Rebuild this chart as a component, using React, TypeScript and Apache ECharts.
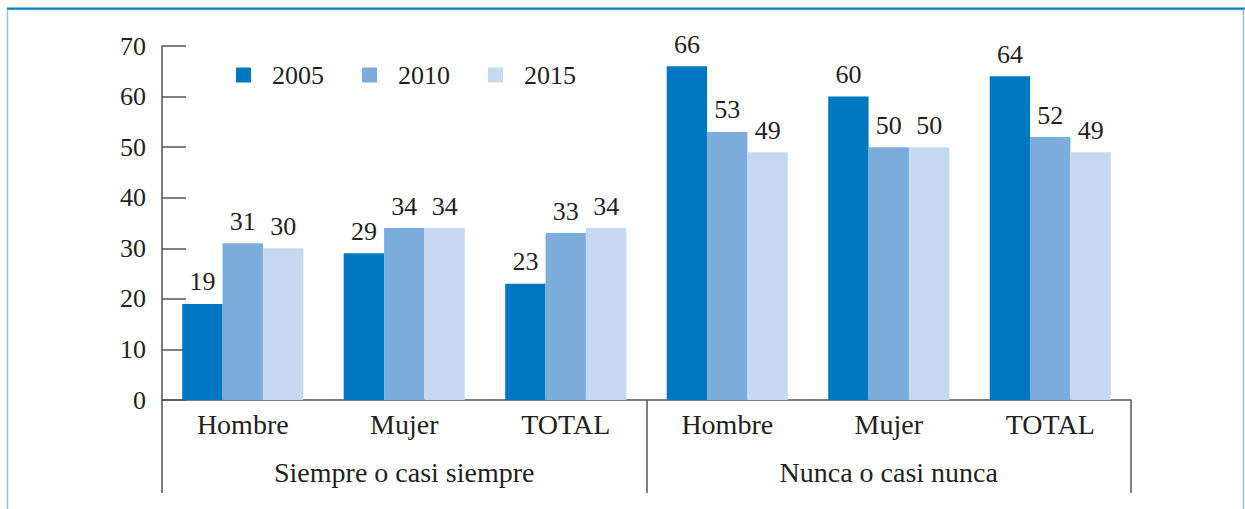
import React, { useEffect, useRef } from "react";
import * as echarts from "echarts";

const categories = ["Hombre", "Mujer", "TOTAL", "Hombre", "Mujer", "TOTAL"];
const groups = ["Siempre o casi siempre", "Nunca o casi nunca"];
const seriesNames = ["2005", "2010", "2015"];
const values2005 = [19, 29, 23, 66, 60, 64];
const values2010 = [31, 34, 33, 53, 50, 52];
const values2015 = [30, 34, 34, 49, 50, 49];
const colors = ["#0077C1", "#7BACDC", "#C6D9F0"];

const FONT = "'Liberation Serif', 'Times New Roman', serif";
const TEXT = "#231F20";
const AXIS = "#555555";

export default function App() {
  const ref = useRef<HTMLDivElement>(null);
  useEffect(() => {
    document.body.style.margin = "0";
    const chart = echarts.init(ref.current!, null, { renderer: "svg" });
    const data = [values2005, values2010, values2015];
    chart.setOption({
      animation: false,
      backgroundColor: "#ffffff",
      textStyle: { fontFamily: FONT, color: TEXT },
      grid: { left: 162, right: 114, top: 46, bottom: 109, containLabel: false },
      legend: {
        left: 236,
        top: 62,
        padding: 0,
        icon: "rect",
        itemWidth: 15,
        itemHeight: 15,
        itemGap: 38,
        data: seriesNames,
        textStyle: { fontFamily: FONT, fontSize: 26, color: TEXT, padding: [0, 0, 0, 16] },
      },
      xAxis: [
        {
          type: "category",
          data: categories,
          position: "bottom",
          axisLine: { show: true, lineStyle: { color: AXIS, width: 1.5 } },
          axisTick: { show: false },
          axisLabel: { margin: 10, fontFamily: FONT, fontSize: 28, color: TEXT },
        },
        {
          type: "category",
          data: groups,
          position: "bottom",
          axisLine: { show: false },
          axisTick: { show: true, length: 93, lineStyle: { color: AXIS, width: 1.5 } },
          axisLabel: { margin: 58, fontFamily: FONT, fontSize: 28, color: TEXT },
        },
      ],
      yAxis: {
        type: "value",
        min: 0,
        max: 70,
        interval: 10,
        axisLine: { show: true, lineStyle: { color: AXIS, width: 1.5 } },
        axisTick: { show: true, inside: true, length: 24, lineStyle: { color: AXIS, width: 1.5 } },
        splitLine: { show: false },
        axisLabel: { margin: 16, fontFamily: FONT, fontSize: 26, color: TEXT },
      },
      series: seriesNames.map((name, i) => ({
        name,
        type: "bar",
        xAxisIndex: 0,
        data: data[i],
        barGap: "0%",
        barCategoryGap: "25%",
        itemStyle: { color: colors[i] },
        label: {
          show: true,
          position: "top",
          distance: 9,
          fontFamily: FONT,
          fontSize: 26,
          color: TEXT,
        },
      })),
      graphic: [
        {
          type: "rect",
          shape: { x: 7.5, y: 9.5, width: 1236, height: 600 },
          style: { fill: "none", stroke: "#8EC3E6", lineWidth: 1.5 },
          silent: true,
        },
        {
          type: "line",
          shape: { x1: 7, y1: 8.5, x2: 1245, y2: 8.5 },
          style: { stroke: "#0A79C4", lineWidth: 2 },
          silent: true,
        },
      ],
    });
    return () => chart.dispose();
  }, []);
  return <div ref={ref} style={{ width: 1245, height: 509 }} />;
}
